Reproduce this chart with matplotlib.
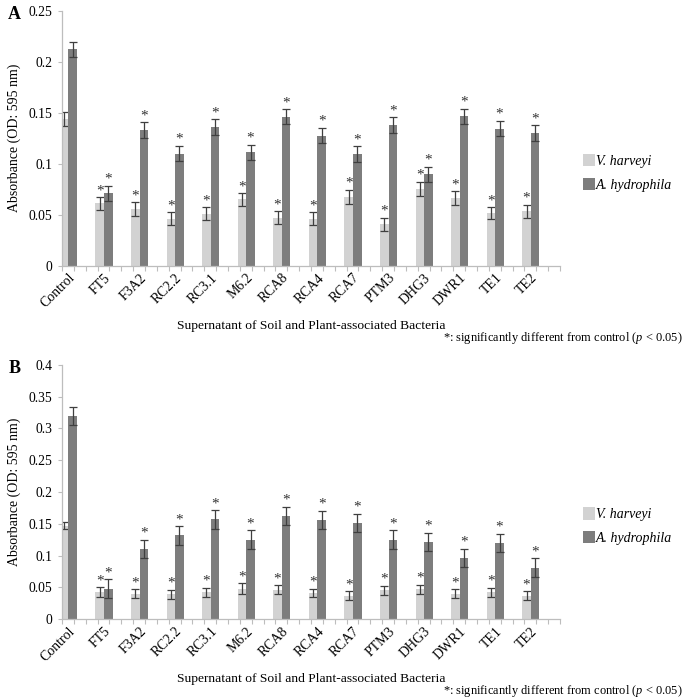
import numpy as np
import matplotlib
matplotlib.use("Agg")
import matplotlib.pyplot as plt
from matplotlib.patches import Patch

plt.rcParams['font.family'] = ['Liberation Serif', 'DejaVu Serif']
plt.rcParams['mathtext.fontset'] = 'custom'
plt.rcParams['mathtext.rm'] = 'Liberation Serif'
plt.rcParams['mathtext.it'] = 'Liberation Serif:italic'

strains = ["Control", "FT5", "F3A2", "RC2.2", "RC3.1", "M6.2", "RCA8", "RCA4",
           "RCA7", "PTM3", "DHG3", "DWR1", "TE1", "TE2"]
series = ["V. harveyi", "A. hydrophila"]

# panel A
a_vh = [0.144, 0.061, 0.0555, 0.046, 0.051, 0.065, 0.047, 0.046, 0.0675, 0.0405, 0.0755, 0.0665, 0.0515, 0.0535]
a_vh_err = [0.007, 0.006, 0.0065, 0.0065, 0.0065, 0.006, 0.0065, 0.0065, 0.007, 0.0065, 0.007, 0.0065, 0.006, 0.0065]
a_ah = [0.212, 0.071, 0.133, 0.110, 0.136, 0.111, 0.146, 0.1275, 0.1095, 0.138, 0.0895, 0.1465, 0.1345, 0.130]
a_ah_err = [0.0075, 0.0075, 0.0075, 0.0075, 0.0075, 0.0075, 0.0075, 0.0075, 0.0075, 0.0075, 0.0075, 0.0075, 0.0075, 0.0075]

# panel B
b_vh = [0.147, 0.042, 0.040, 0.039, 0.042, 0.048, 0.046, 0.041, 0.0365, 0.045, 0.047, 0.040, 0.042, 0.0365]
b_vh_err = [0.006, 0.008, 0.007, 0.007, 0.007, 0.008, 0.007, 0.007, 0.007, 0.007, 0.007, 0.007, 0.007, 0.007]
b_ah = [0.320, 0.0475, 0.110, 0.1315, 0.157, 0.125, 0.1625, 0.156, 0.151, 0.125, 0.1215, 0.0965, 0.1195, 0.081]
b_ah_err = [0.0145, 0.015, 0.0145, 0.0145, 0.0145, 0.0145, 0.0145, 0.0145, 0.0145, 0.0145, 0.0145, 0.0145, 0.0145, 0.0145]

light = '#d2d2d2'
dark = '#7d7d7d'
axis_col = '#bdbdbd'
err_col = '#3f3f3f'

fig = plt.figure(figsize=(6.85, 7.0), dpi=100)


def draw_panel(rect, vh, vh_err, ah, ah_err, ymax, letter):
    ax = fig.add_axes(rect)
    x = np.arange(len(strains))
    w = 0.24
    ekw = dict(ecolor=err_col, elinewidth=0.9, capsize=3, capthick=0.9)
    ax.bar(x - w / 2, vh, w, color=light, yerr=vh_err, error_kw=ekw, zorder=1)
    ax.bar(x + w / 2, ah, w, color=dark, yerr=ah_err, error_kw=ekw, zorder=2)
    for i in range(1, len(strains)):
        for xi, v, e in ((x[i] - w / 2, vh[i], vh_err[i]), (x[i] + w / 2, ah[i], ah_err[i])):
            ax.annotate('*', (xi, v + e), xytext=(0, 0), textcoords='offset points',
                        ha='center', va='bottom', fontsize=11, color='#333333')
    ax.set_xlim(-0.18, 13.82)
    ax.set_ylim(0, ymax)
    yt = np.arange(0, ymax + 1e-9, 0.05)
    ax.set_yticks(yt)
    ax.set_yticklabels([f"{v:g}" for v in np.round(yt, 2)], fontsize=9.8)
    ax.set_xticks(-0.18 + np.arange(43) / 3.0)
    ax.set_xticklabels([])
    ax.set_xticks(x, minor=True)
    ax.set_xticklabels(strains, minor=True, rotation=45, ha='right', va='top',
                       rotation_mode='anchor', fontsize=10)
    ax.tick_params(axis='x', which='minor', length=0, pad=4)
    ax.tick_params(axis='x', which='major', length=3.5, color=axis_col, direction='out')
    ax.tick_params(axis='y', length=3, color=axis_col, pad=4)
    for s in ('top', 'right'):
        ax.spines[s].set_visible(False)
    for s in ('left', 'bottom'):
        ax.spines[s].set_color(axis_col)
        ax.spines[s].set_linewidth(0.9)
    ax.set_ylabel("Absorbance (OD: 595 nm)", fontsize=10, labelpad=5)

    bottom_px = (1 - rect[1]) * 700
    top_px = (1 - rect[1] - rect[3]) * 700
    fig.text(0.012, 1 - (top_px + 4) / 700, letter, fontsize=13, fontweight='bold', va='center')
    handles = [Patch(facecolor=light, label=series[0]), Patch(facecolor=dark, label=series[1])]
    fig.legend(handles=handles, loc='center left',
               bbox_to_anchor=(583 / 685, 1 - (bottom_px - 93) / 700),
               frameon=False, prop={'style': 'italic', 'size': 10},
               borderpad=0, borderaxespad=0,
               handlelength=0.85, handleheight=1.0, handletextpad=0.1, labelspacing=0.7)
    fig.text(311 / 685, 1 - (bottom_px + 60) / 700, "Supernatant of Soil and Plant-associated Bacteria",
             fontsize=9.7, ha='center', va='center')
    fig.text(0.997, 1 - (bottom_px + 72) / 700,
             r"*: significantly different from control ($\mathit{p\,<\,0.05)}$",
             fontsize=8.9, ha='right', va='center')
    return ax


draw_panel([0.0905, 0.6204, 0.727, 0.3643], a_vh, a_vh_err, a_ah, a_ah_err, 0.25, "A")
draw_panel([0.0905, 0.1157, 0.727, 0.3629], b_vh, b_vh_err, b_ah, b_ah_err, 0.4, "B")

fig.savefig("out.png", dpi=100)
